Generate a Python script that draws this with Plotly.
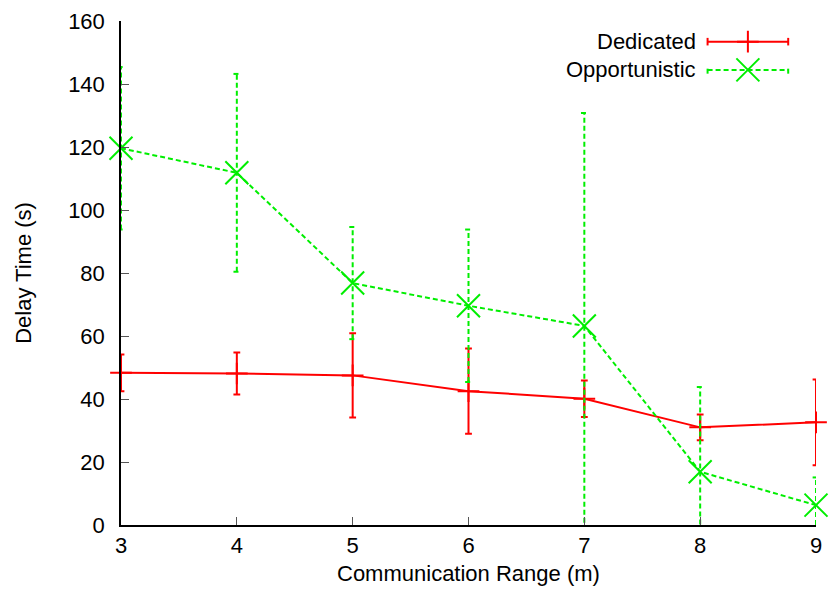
import plotly.graph_objects as go

# Communication range (m)
ranges = [3, 4, 5, 6, 7, 8, 9]

# Dedicated: mean delay and error half-width (s)
dedicated_mean = [48.3, 48.1, 47.5, 42.5, 40.1, 31.0, 32.6]
dedicated_err = [5.8, 6.7, 13.4, 13.5, 5.8, 4.1, 13.6]

# Opportunistic: mean delay and error half-width (s)
opportunistic_mean = [119.6, 111.8, 76.8, 69.6, 63.2, 16.9, 6.3]
opportunistic_err = [25.8, 31.4, 17.8, 24.2, 67.6, 26.9, 8.8]

y_ticks = [0, 20, 40, 60, 80, 100, 120, 140, 160]
series_names = ["Dedicated", "Opportunistic"]

RED = "#ff0000"
GREEN = "#00ee00"
FONT = "Liberation Sans, Arial, Helvetica, sans-serif"
FS = 22
CAP = 3.4 / 116.8  # half cap width in x units
DASH = "5px,3px"


def errorbar_path(xs, means, errs, cap):
    px, py = [], []
    for x, m, e in zip(xs, means, errs):
        lo, hi = m - e, m + e
        px += [x, x, None, x - cap, x + cap, None, x - cap, x + cap, None]
        py += [lo, hi, None, hi, hi, None, lo, lo, None]
    return px, py


fig = go.Figure()

# Dedicated: solid line, plus markers, solid error bars
fig.add_trace(go.Scatter(
    x=ranges, y=dedicated_mean, mode="lines+markers", name=series_names[0],
    line=dict(color=RED, width=2),
    marker=dict(symbol="cross-thin", size=15.5, color=RED,
                line=dict(color=RED, width=2)),
    error_y=dict(type="data", array=dedicated_err, visible=True,
                 color=RED, thickness=2, width=3.4),
    cliponaxis=False, showlegend=False,
))

# Opportunistic: dashed error bars, dashed line, X markers
ex, ey = errorbar_path(ranges, opportunistic_mean, opportunistic_err, CAP)
fig.add_trace(go.Scatter(
    x=ex, y=ey, mode="lines", line=dict(color=GREEN, width=2, dash=DASH),
    hoverinfo="skip", showlegend=False,
))
fig.add_trace(go.Scatter(
    x=ranges, y=opportunistic_mean, mode="lines+markers", name=series_names[1],
    line=dict(color=GREEN, width=2, dash=DASH),
    marker=dict(symbol="x-thin", size=23, color=GREEN,
                line=dict(color=GREEN, width=2)),
    cliponaxis=False, showlegend=False,
))

# Key in the top-right corner: label text, then a sample of each style
key_rows = [0.959, 0.903]
key_x0, key_x1 = 0.844, 0.960
key_mid = (key_x0 + key_x1) / 2
key_cap = 0.0075
key_styles = [
    (RED, "solid", "cross-thin", 15.5),
    (GREEN, DASH, "x-thin", 23),
]
for name, row, (col, dash, sym, size) in zip(series_names, key_rows, key_styles):
    fig.add_trace(go.Scatter(
        x=[key_x0, key_x1, None, key_x0, key_x0, None, key_x1, key_x1],
        y=[row, row, None, row - key_cap, row + key_cap, None, row - key_cap, row + key_cap],
        mode="lines", line=dict(color=col, width=2, dash=dash),
        xaxis="x2", yaxis="y2", hoverinfo="skip", showlegend=False,
    ))
    fig.add_trace(go.Scatter(
        x=[key_mid], y=[row], mode="markers",
        marker=dict(symbol=sym, size=size, color=col, line=dict(color=col, width=2)),
        xaxis="x2", yaxis="y2", hoverinfo="skip", showlegend=False, cliponaxis=False,
    ))
    fig.add_annotation(
        x=0.8305, y=row, xref="paper", yref="paper", text=name,
        showarrow=False, xanchor="right", yanchor="middle",
        font=dict(family=FONT, size=FS, color="black"),
    )

# Axis titles
fig.add_annotation(
    x=0.5, y=-0.097, xref="paper", yref="paper", text="Communication Range (m)",
    showarrow=False, xanchor="center", yanchor="middle",
    font=dict(family=FONT, size=FS, color="black"),
)
fig.add_annotation(
    x=-0.1412, y=0.5, xref="paper", yref="paper", text="Delay Time (s)",
    showarrow=False, xanchor="center", yanchor="middle", textangle=-90,
    font=dict(family=FONT, size=FS, color="black"),
)

axis_common = dict(
    showgrid=False, zeroline=False, showline=True, linecolor="black", linewidth=1.5,
    ticks="inside", ticklen=8, tickwidth=1, tickcolor="#555555",
    tickfont=dict(family=FONT, size=FS, color="black"),
    mirror=False,
)

fig.update_layout(
    width=831, height=597,
    margin=dict(l=121, r=9, t=20, b=72),
    paper_bgcolor="white", plot_bgcolor="white",
    showlegend=False,
    xaxis=dict(range=[3, 9], tickmode="array", tickvals=ranges,
               ticktext=[str(r) for r in ranges], ticklabelstandoff=0, **axis_common),
    yaxis=dict(range=[0, 160], tickmode="array", tickvals=y_ticks,
               ticktext=[str(t) for t in y_ticks], ticklabelstandoff=10, **axis_common),
    xaxis2=dict(overlaying="x", range=[0, 1], visible=False),
    yaxis2=dict(overlaying="y", range=[0, 1], visible=False),
)

fig.write_html("out.html")
